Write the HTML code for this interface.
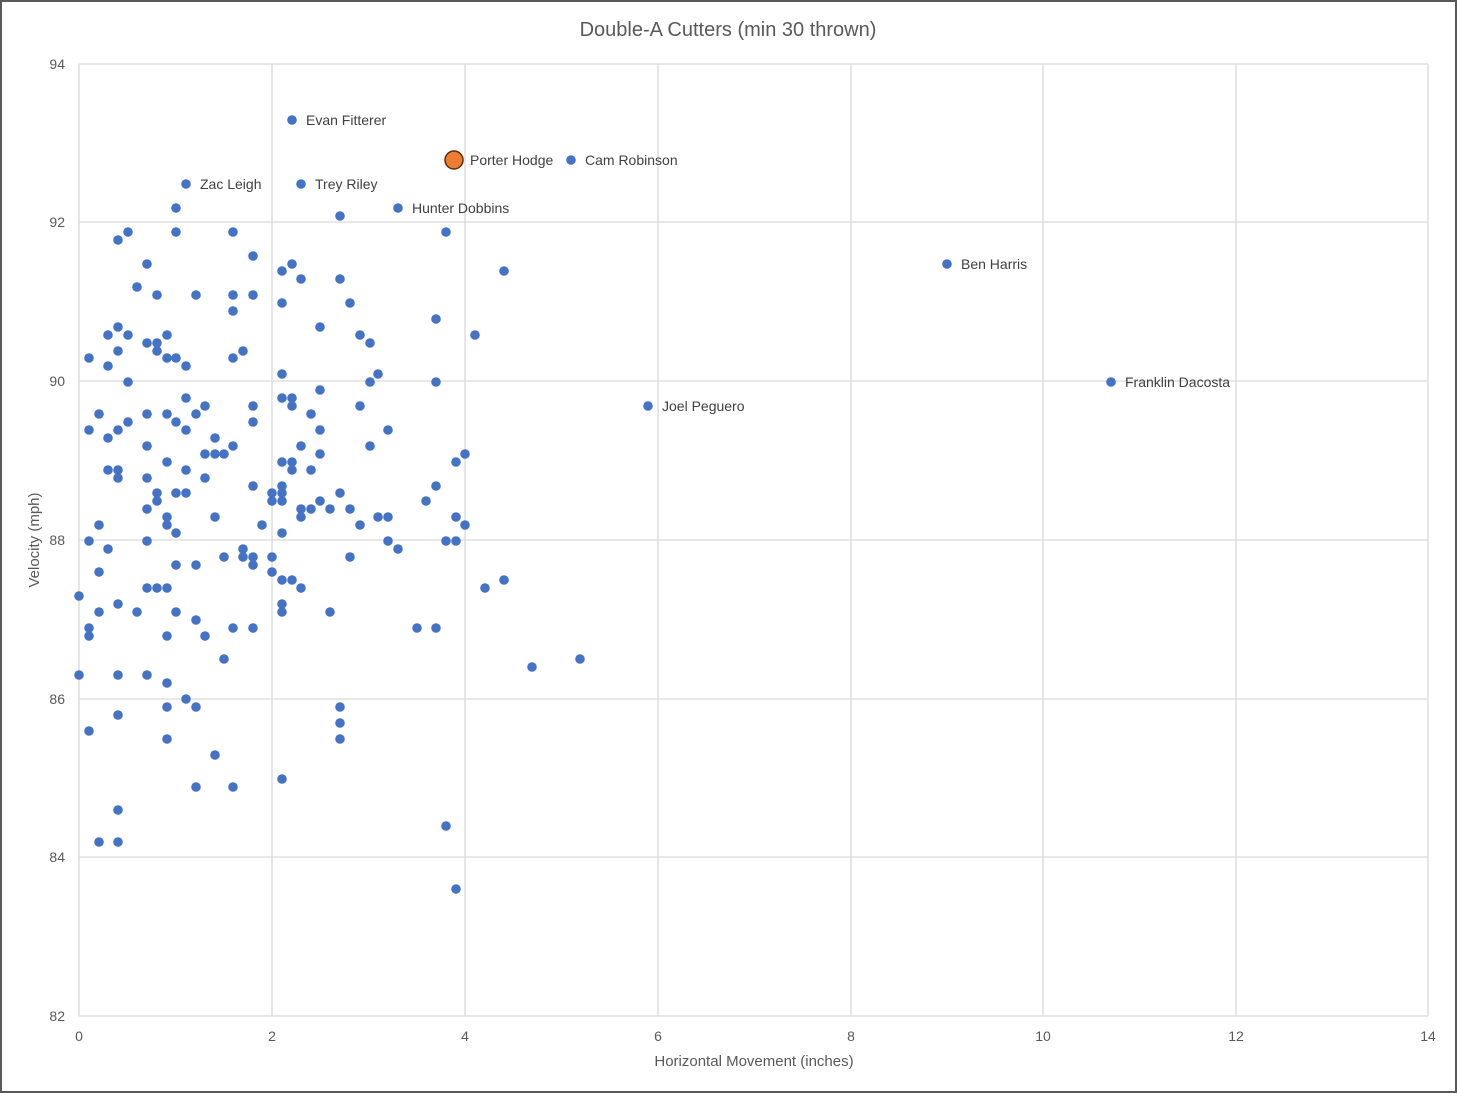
<!DOCTYPE html>
<html><head><meta charset="utf-8"><style>
html,body{margin:0;padding:0;background:#fff}
svg{display:block;font-family:"Liberation Sans",sans-serif}
</style></head><body>
<svg width="1457" height="1093" viewBox="0 0 1457 1093" xmlns="http://www.w3.org/2000/svg">
<rect x="1" y="1" width="1455" height="1091" fill="#fff" stroke="#595959" stroke-width="2"/>
<text x="728" y="36" text-anchor="middle" font-size="20" fill="#595959">Double-A Cutters (min 30 thrown)</text>
<g stroke="#d9d9d9" stroke-width="1.3">
<line x1="79" y1="64" x2="1428" y2="64"/><line x1="79" y1="222" x2="1428" y2="222"/><line x1="79" y1="381" x2="1428" y2="381"/><line x1="79" y1="540" x2="1428" y2="540"/><line x1="79" y1="699" x2="1428" y2="699"/><line x1="79" y1="857" x2="1428" y2="857"/><line x1="79" y1="1016" x2="1428" y2="1016"/>
<line x1="79" y1="64" x2="79" y2="1016"/><line x1="272" y1="64" x2="272" y2="1016"/><line x1="465" y1="64" x2="465" y2="1016"/><line x1="658" y1="64" x2="658" y2="1016"/><line x1="851" y1="64" x2="851" y2="1016"/><line x1="1043" y1="64" x2="1043" y2="1016"/><line x1="1236" y1="64" x2="1236" y2="1016"/><line x1="1428" y1="64" x2="1428" y2="1016"/>
</g>
<g font-size="14" fill="#595959" text-anchor="end">
<text x="65" y="69">94</text><text x="65" y="227">92</text><text x="65" y="386">90</text><text x="65" y="545">88</text><text x="65" y="704">86</text><text x="65" y="862">84</text><text x="65" y="1021">82</text>
</g>
<g font-size="14" fill="#595959" text-anchor="middle">
<text x="79" y="1041">0</text><text x="272" y="1041">2</text><text x="465" y="1041">4</text><text x="658" y="1041">6</text><text x="851" y="1041">8</text><text x="1043" y="1041">10</text><text x="1236" y="1041">12</text><text x="1428" y="1041">14</text>
</g>
<text x="754" y="1066" text-anchor="middle" font-size="15" fill="#595959">Horizontal Movement (inches)</text>
<text transform="translate(39,540) rotate(-90)" text-anchor="middle" font-size="15" fill="#595959">Velocity (mph)</text>
<g fill="#4472c4">
<circle cx="292" cy="120" r="4.8"/><circle cx="571" cy="160" r="4.8"/><circle cx="186" cy="184" r="4.8"/><circle cx="301" cy="184" r="4.8"/><circle cx="398" cy="208" r="4.8"/><circle cx="947" cy="264" r="4.8"/><circle cx="1111" cy="382" r="4.8"/><circle cx="648" cy="406" r="4.8"/>
<circle cx="176" cy="208" r="4.8"/><circle cx="340" cy="216" r="4.8"/><circle cx="118" cy="240" r="4.8"/><circle cx="128" cy="232" r="4.8"/><circle cx="176" cy="232" r="4.8"/><circle cx="233" cy="232" r="4.8"/><circle cx="446" cy="232" r="4.8"/><circle cx="253" cy="256" r="4.8"/><circle cx="147" cy="264" r="4.8"/><circle cx="292" cy="264" r="4.8"/><circle cx="282" cy="271" r="4.8"/><circle cx="504" cy="271" r="4.8"/><circle cx="137" cy="287" r="4.8"/><circle cx="157" cy="295" r="4.8"/><circle cx="196" cy="295" r="4.8"/><circle cx="233" cy="295" r="4.8"/><circle cx="253" cy="295" r="4.8"/><circle cx="301" cy="279" r="4.8"/><circle cx="340" cy="279" r="4.8"/><circle cx="282" cy="303" r="4.8"/><circle cx="350" cy="303" r="4.8"/><circle cx="233" cy="311" r="4.8"/><circle cx="436" cy="319" r="4.8"/><circle cx="118" cy="327" r="4.8"/><circle cx="108" cy="335" r="4.8"/><circle cx="128" cy="335" r="4.8"/><circle cx="167" cy="335" r="4.8"/><circle cx="320" cy="327" r="4.8"/><circle cx="360" cy="335" r="4.8"/><circle cx="475" cy="335" r="4.8"/><circle cx="147" cy="343" r="4.8"/><circle cx="157" cy="343" r="4.8"/><circle cx="370" cy="343" r="4.8"/><circle cx="89" cy="358" r="4.8"/><circle cx="118" cy="351" r="4.8"/><circle cx="157" cy="351" r="4.8"/><circle cx="167" cy="358" r="4.8"/><circle cx="176" cy="358" r="4.8"/><circle cx="233" cy="358" r="4.8"/><circle cx="243" cy="351" r="4.8"/><circle cx="108" cy="366" r="4.8"/><circle cx="186" cy="366" r="4.8"/><circle cx="282" cy="374" r="4.8"/><circle cx="128" cy="382" r="4.8"/><circle cx="370" cy="382" r="4.8"/><circle cx="378" cy="374" r="4.8"/><circle cx="436" cy="382" r="4.8"/><circle cx="186" cy="398" r="4.8"/><circle cx="282" cy="398" r="4.8"/><circle cx="292" cy="398" r="4.8"/><circle cx="292" cy="406" r="4.8"/><circle cx="320" cy="390" r="4.8"/><circle cx="205" cy="406" r="4.8"/><circle cx="253" cy="406" r="4.8"/><circle cx="360" cy="406" r="4.8"/><circle cx="99" cy="414" r="4.8"/><circle cx="147" cy="414" r="4.8"/><circle cx="167" cy="414" r="4.8"/><circle cx="196" cy="414" r="4.8"/><circle cx="311" cy="414" r="4.8"/><circle cx="128" cy="422" r="4.8"/><circle cx="176" cy="422" r="4.8"/><circle cx="253" cy="422" r="4.8"/><circle cx="89" cy="430" r="4.8"/><circle cx="118" cy="430" r="4.8"/><circle cx="186" cy="430" r="4.8"/><circle cx="320" cy="430" r="4.8"/><circle cx="388" cy="430" r="4.8"/><circle cx="108" cy="438" r="4.8"/><circle cx="215" cy="438" r="4.8"/><circle cx="147" cy="446" r="4.8"/><circle cx="233" cy="446" r="4.8"/><circle cx="301" cy="446" r="4.8"/><circle cx="370" cy="446" r="4.8"/><circle cx="205" cy="454" r="4.8"/><circle cx="215" cy="454" r="4.8"/><circle cx="224" cy="454" r="4.8"/><circle cx="320" cy="454" r="4.8"/><circle cx="465" cy="454" r="4.8"/><circle cx="167" cy="462" r="4.8"/><circle cx="282" cy="462" r="4.8"/><circle cx="292" cy="462" r="4.8"/><circle cx="456" cy="462" r="4.8"/><circle cx="108" cy="470" r="4.8"/><circle cx="118" cy="470" r="4.8"/><circle cx="186" cy="470" r="4.8"/><circle cx="292" cy="470" r="4.8"/><circle cx="311" cy="470" r="4.8"/><circle cx="118" cy="478" r="4.8"/><circle cx="147" cy="478" r="4.8"/><circle cx="205" cy="478" r="4.8"/><circle cx="253" cy="486" r="4.8"/><circle cx="282" cy="486" r="4.8"/><circle cx="436" cy="486" r="4.8"/><circle cx="157" cy="493" r="4.8"/><circle cx="176" cy="493" r="4.8"/><circle cx="186" cy="493" r="4.8"/><circle cx="272" cy="493" r="4.8"/><circle cx="282" cy="493" r="4.8"/><circle cx="320" cy="501" r="4.8"/><circle cx="340" cy="493" r="4.8"/><circle cx="157" cy="501" r="4.8"/><circle cx="272" cy="501" r="4.8"/><circle cx="282" cy="501" r="4.8"/><circle cx="426" cy="501" r="4.8"/><circle cx="147" cy="509" r="4.8"/><circle cx="301" cy="509" r="4.8"/><circle cx="311" cy="509" r="4.8"/><circle cx="330" cy="509" r="4.8"/><circle cx="350" cy="509" r="4.8"/><circle cx="167" cy="517" r="4.8"/><circle cx="215" cy="517" r="4.8"/><circle cx="301" cy="517" r="4.8"/><circle cx="378" cy="517" r="4.8"/><circle cx="388" cy="517" r="4.8"/><circle cx="456" cy="517" r="4.8"/><circle cx="99" cy="525" r="4.8"/><circle cx="167" cy="525" r="4.8"/><circle cx="262" cy="525" r="4.8"/><circle cx="360" cy="525" r="4.8"/><circle cx="465" cy="525" r="4.8"/><circle cx="176" cy="533" r="4.8"/><circle cx="282" cy="533" r="4.8"/><circle cx="89" cy="541" r="4.8"/><circle cx="147" cy="541" r="4.8"/><circle cx="388" cy="541" r="4.8"/><circle cx="446" cy="541" r="4.8"/><circle cx="456" cy="541" r="4.8"/><circle cx="108" cy="549" r="4.8"/><circle cx="243" cy="549" r="4.8"/><circle cx="398" cy="549" r="4.8"/><circle cx="224" cy="557" r="4.8"/><circle cx="243" cy="557" r="4.8"/><circle cx="253" cy="557" r="4.8"/><circle cx="272" cy="557" r="4.8"/><circle cx="350" cy="557" r="4.8"/><circle cx="176" cy="565" r="4.8"/><circle cx="196" cy="565" r="4.8"/><circle cx="253" cy="565" r="4.8"/><circle cx="99" cy="572" r="4.8"/><circle cx="272" cy="572" r="4.8"/><circle cx="282" cy="580" r="4.8"/><circle cx="292" cy="580" r="4.8"/><circle cx="504" cy="580" r="4.8"/><circle cx="147" cy="588" r="4.8"/><circle cx="157" cy="588" r="4.8"/><circle cx="167" cy="588" r="4.8"/><circle cx="301" cy="588" r="4.8"/><circle cx="485" cy="588" r="4.8"/><circle cx="79" cy="596" r="4.8"/><circle cx="118" cy="604" r="4.8"/><circle cx="282" cy="604" r="4.8"/><circle cx="99" cy="612" r="4.8"/><circle cx="137" cy="612" r="4.8"/><circle cx="176" cy="612" r="4.8"/><circle cx="282" cy="612" r="4.8"/><circle cx="330" cy="612" r="4.8"/><circle cx="196" cy="620" r="4.8"/><circle cx="89" cy="628" r="4.8"/><circle cx="233" cy="628" r="4.8"/><circle cx="253" cy="628" r="4.8"/><circle cx="417" cy="628" r="4.8"/><circle cx="436" cy="628" r="4.8"/><circle cx="89" cy="636" r="4.8"/><circle cx="167" cy="636" r="4.8"/><circle cx="205" cy="636" r="4.8"/><circle cx="224" cy="659" r="4.8"/><circle cx="580" cy="659" r="4.8"/><circle cx="532" cy="667" r="4.8"/><circle cx="79" cy="675" r="4.8"/><circle cx="118" cy="675" r="4.8"/><circle cx="147" cy="675" r="4.8"/><circle cx="167" cy="683" r="4.8"/><circle cx="186" cy="699" r="4.8"/><circle cx="167" cy="707" r="4.8"/><circle cx="196" cy="707" r="4.8"/><circle cx="340" cy="707" r="4.8"/><circle cx="118" cy="715" r="4.8"/><circle cx="340" cy="723" r="4.8"/><circle cx="89" cy="731" r="4.8"/><circle cx="167" cy="739" r="4.8"/><circle cx="340" cy="739" r="4.8"/><circle cx="215" cy="755" r="4.8"/><circle cx="282" cy="779" r="4.8"/><circle cx="196" cy="787" r="4.8"/><circle cx="233" cy="787" r="4.8"/><circle cx="118" cy="810" r="4.8"/><circle cx="446" cy="826" r="4.8"/><circle cx="99" cy="842" r="4.8"/><circle cx="118" cy="842" r="4.8"/><circle cx="456" cy="889" r="4.8"/>
</g>
<circle cx="454" cy="160" r="9" fill="#ed7d31" stroke="#5a2d0c" stroke-width="1.5"/>
<g font-size="14" fill="#404040">
<text x="306" y="125">Evan Fitterer</text>
<text x="470" y="165">Porter Hodge</text>
<text x="585" y="165">Cam Robinson</text>
<text x="200" y="189">Zac Leigh</text>
<text x="315" y="189">Trey Riley</text>
<text x="412" y="213">Hunter Dobbins</text>
<text x="961" y="269">Ben Harris</text>
<text x="1125" y="387">Franklin Dacosta</text>
<text x="662" y="411">Joel Peguero</text>
</g>
</svg>
</body></html>
